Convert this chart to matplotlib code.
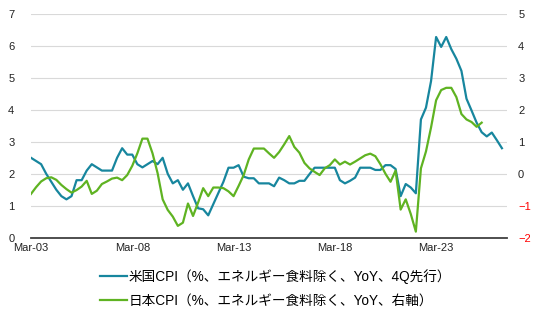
import matplotlib
matplotlib.use('Agg')
import matplotlib.pyplot as plt

plt.rcParams['font.family'] = ['Liberation Sans', 'Noto Sans CJK JP', 'DejaVu Sans']

########################################################################
# quarterly data, first point = Mar-03

xlabels = ['Mar-03', 'Mar-08', 'Mar-13', 'Mar-18', 'Mar-23']
xlabel_pos = [0, 20, 40, 60, 80]

# US core CPI YoY (%), shifted 4 quarters ahead (left axis)
us_cpi = [
    2.5, 2.4, 2.3, 2.0, 1.75, 1.5, 1.3, 1.2, 1.3, 1.8,
    1.8, 2.1, 2.3, 2.2, 2.1, 2.1, 2.1, 2.5, 2.8, 2.6,
    2.6, 2.3, 2.2, 2.3, 2.4, 2.3, 2.5, 2.0, 1.7, 1.8,
    1.5, 1.7, 1.3, 0.92, 0.89, 0.7, 1.05, 1.4, 1.75, 2.19,
    2.19, 2.27, 1.91, 1.86, 1.86, 1.7, 1.7, 1.7, 1.61, 1.88,
    1.8, 1.7, 1.7, 1.78, 1.78, 1.99, 2.19, 2.19, 2.19, 2.19,
    2.19, 1.8, 1.7, 1.78, 1.88, 2.19, 2.19, 2.19, 2.12, 2.12,
    2.27, 2.27, 2.15, 1.3, 1.68, 1.57, 1.39, 3.7, 4.07, 4.9,
    6.28, 5.97, 6.28, 5.9, 5.6, 5.22, 4.35, 3.98, 3.6, 3.3,
    3.17, 3.29, 3.05, 2.8,
]

# Japan core CPI YoY (%) (right axis)
jp_cpi = [
    -0.63, -0.42, -0.24, -0.14, -0.11, -0.19, -0.35, -0.48, -0.59, -0.51,
    -0.40, -0.22, -0.63, -0.53, -0.32, -0.24, -0.15, -0.12, -0.20, -0.04,
    0.25, 0.64, 1.10, 1.10, 0.64, 0.02, -0.80, -1.13, -1.34, -1.63,
    -1.53, -0.93, -1.32, -0.90, -0.45, -0.70, -0.43, -0.43, -0.45, -0.55,
    -0.70, -0.38, -0.04, 0.45, 0.79, 0.79, 0.79, 0.64, 0.50, 0.68,
    0.92, 1.18, 0.84, 0.66, 0.34, 0.17, 0.06, -0.04, 0.17, 0.27,
    0.45, 0.29, 0.38, 0.29, 0.38, 0.48, 0.58, 0.63, 0.55, 0.30,
    0.00, -0.25, 0.10, -1.12, -0.80, -1.26, -1.81, 0.17, 0.70, 1.45,
    2.30, 2.62, 2.69, 2.69, 2.40, 1.87, 1.70, 1.62, 1.47, 1.60,
]

us_label = '米国CPI（%、エネルギー食料除く、YoY、4Q先行）'
jp_label = '日本CPI（%、エネルギー食料除く、YoY、右軸）'

us_color = '#17869e'
jp_color = '#5fb322'

########################################################################

fig = plt.figure(figsize=(5.43, 3.19), dpi=100)
ax = fig.add_axes([31 / 543, (319 - 237.7) / 319, 476 / 543, 223.7 / 319])
ax2 = ax.twinx()

l1, = ax.plot(range(len(us_cpi)), us_cpi, color=us_color, lw=1.6, label=us_label)
l2, = ax2.plot(range(len(jp_cpi)), jp_cpi, color=jp_color, lw=1.6, label=jp_label)

ax.set_xlim(0, 94)
ax.set_ylim(0, 7)
ax2.set_ylim(-2, 5)
ax.set_yticks(range(0, 8))
ax2.set_yticks(range(-2, 6))
ax.set_xticks(xlabel_pos)
ax.set_xticklabels(xlabels)

ax.yaxis.grid(True, color='#d9d9d9', lw=0.8)
ax.set_axisbelow(True)

for a in (ax, ax2):
    for s in ('top', 'left', 'right', 'bottom'):
        a.spines[s].set_visible(False)
ax.spines['bottom'].set_visible(True)
ax.spines['bottom'].set_color('#404040')
ax.spines['bottom'].set_linewidth(1.3)

ax.tick_params(axis='both', length=0, labelsize=8, colors='#222222')
ax.tick_params(axis='y', pad=12)
ax.tick_params(axis='x', pad=4)
ax2.tick_params(axis='y', length=0, labelsize=8, pad=8, colors='#222222')
for t, v in zip(ax2.get_yticklabels(), range(-2, 6)):
    if v < 0:
        t.set_color('red')

fig.legend([l1, l2], [us_label, jp_label], loc='upper left',
           bbox_to_anchor=(100 / 543, (319 - 269) / 319), ncol=1,
           frameon=False, fontsize=9.8, borderpad=0, borderaxespad=0,
           handlelength=2.0, handletextpad=0.1, labelspacing=0.75)

plt.savefig('out.png', dpi=100)
